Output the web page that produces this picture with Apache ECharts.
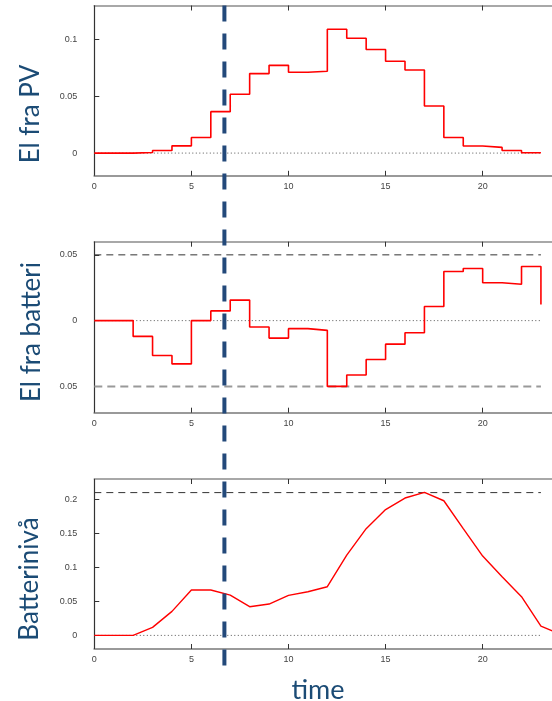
<!DOCTYPE html>
<html>
<head>
<meta charset="utf-8">
<script src="https://cdn.jsdelivr.net/npm/echarts@6/dist/echarts.min.js"></script>
<style>
  html, body { margin: 0; padding: 0; background: #ffffff; }
  #chart { width: 552px; height: 701px; }
</style>
</head>
<body>
<div id="chart"></div>
<script>
// Hour stamps: hourly steps (0..23) and the battery state (0..24)
const stepHours  = [0, 1, 2, 3, 4, 5, 6, 7, 8, 9, 10, 11, 12, 13, 14, 15, 16, 17, 18, 19, 20, 21, 22, 23];
const levelHours = [0, 1, 2, 3, 4, 5, 6, 7, 8, 9, 10, 11, 12, 13, 14, 15, 16, 17, 18, 19, 20, 21, 22, 23, 24];

// Electricity from PV per hour
const pvSupply = [0, 0, 0.0005, 0.0023, 0.0064, 0.0138, 0.0365, 0.0518, 0.0700, 0.0773, 0.0712, 0.0721,
                  0.1091, 0.1012, 0.0912, 0.0809, 0.0732, 0.0415, 0.0138, 0.0062, 0.0050, 0.0023, 0.0003, 0.0003];

// Electricity from battery per hour (negative = charging)
const batteryFlow = [0, 0, -0.0120, -0.0265, -0.0329, 0, 0.0074, 0.0156, -0.0048, -0.0133, -0.0061, -0.0074,
                     -0.0500, -0.0413, -0.0296, -0.0179, -0.0092, 0.0107, 0.0373, 0.0396, 0.0288, 0.0276, 0.0411, 0.0123];

// Battery state of charge
const batteryLevel = [0, 0, 0, 0.0118, 0.0353, 0.0667, 0.0667, 0.0593, 0.0422, 0.0461, 0.0588, 0.0642, 0.0716,
                      0.1180, 0.1570, 0.1850, 0.2020, 0.2103, 0.1980, 0.1570, 0.1167, 0.0863, 0.0569, 0.0137, 0.0014];

// Tick labels
const timeTicks  = [0, 5, 10, 15, 20];
const pvTicks    = [0, 0.05, 0.1];
const flowTicks  = [-0.05, 0, 0.05];
const levelTicks = [0, 0.05, 0.1, 0.15, 0.2];

// Reference levels
const horizon   = [0, 23];   // span of the reference lines
const flowLimit = 0.05;      // max charge / discharge rate
const capacity  = 0.21;      // battery capacity
const nowHour   = 6.7;       // current time marker
const timeMax   = 23.57;     // visible end of the time axis

const names = { pv: 'El fra PV', flow: 'El fra batteri', level: 'Batterinivå', time: 'time' };

const RED = '#ff0000';
const NAVY = '#1b4b75';
const TICK_FONT = { fontFamily: 'Liberation Sans, Arial, sans-serif', fontSize: 9, color: '#444' };

const chart = echarts.init(document.getElementById('chart'), null, { renderer: 'canvas' });

const grids = [
  { left: 94.3, top: 5.5,   right: 0, height: 170.3 },
  { left: 94.3, top: 241.7, right: 0, height: 171 },
  { left: 94.3, top: 479,   right: 0, height: 170 }
];

function bottomAxis(gi) {
  return {
    type: 'value', gridIndex: gi, position: 'bottom', min: 0, max: timeMax,
    axisLine: { onZero: false, lineStyle: { color: '#999', width: 2 } },
    axisTick: { inside: true, length: 5, customValues: timeTicks, lineStyle: { color: '#333', width: 1 } },
    axisLabel: Object.assign({ customValues: timeTicks, margin: 6, formatter: v => String(v) }, TICK_FONT),
    splitLine: { show: false }
  };
}
function topAxis(gi) {
  return {
    type: 'value', gridIndex: gi, position: 'top', min: 0, max: timeMax,
    axisLine: { onZero: false, lineStyle: { color: '#8c8c8c', width: 1.5 } },
    axisTick: { inside: true, length: 5, customValues: timeTicks, lineStyle: { color: '#333', width: 1 } },
    axisLabel: { show: false },
    splitLine: { show: false }
  };
}
function leftAxis(gi, min, max, ticks) {
  return {
    type: 'value', gridIndex: gi, min: min, max: max,
    axisLine: { show: true, onZero: false, lineStyle: { color: '#333', width: 1.2 } },
    axisTick: { show: true, inside: true, length: 5, customValues: ticks, lineStyle: { color: '#333', width: 1 } },
    axisLabel: Object.assign({ customValues: ticks, margin: 17, formatter: v => String(+v.toFixed(3)) }, TICK_FONT),
    splitLine: { show: false }
  };
}

function refLine(axisIdx, value, style) {
  return {
    type: 'line', xAxisIndex: axisIdx, yAxisIndex: axisIdx, silent: true, symbol: 'none',
    data: [[horizon[0], value], [horizon[1], value]],
    lineStyle: style, z: 2
  };
}
const dotted = { color: '#555', width: 1, type: [1, 2.5] };

const xAxes = [];
grids.forEach((g, i) => { xAxes.push(bottomAxis(i)); });
grids.forEach((g, i) => { xAxes.push(topAxis(i)); });

const option = {
  animation: false,
  backgroundColor: '#ffffff',
  grid: grids,
  xAxis: xAxes,
  yAxis: [
    leftAxis(0, -0.02, 0.13, pvTicks),
    leftAxis(1, -0.07, 0.06, flowTicks),
    leftAxis(2, -0.02, 0.23, levelTicks)
  ],
  series: [
    refLine(0, 0, dotted),
    refLine(1, 0, dotted),
    refLine(1, flowLimit, { color: '#333', width: 1, type: [7, 5] }),
    refLine(1, -flowLimit, { color: '#999', width: 2, type: [8, 5] }),
    refLine(2, 0, dotted),
    refLine(2, capacity, { color: '#333', width: 1, type: [7, 5] }),
    {
      name: names.pv, type: 'line', xAxisIndex: 0, yAxisIndex: 0, step: 'end', symbol: 'none',
      data: stepHours.map((h, i) => [h, pvSupply[i]]),
      lineStyle: { color: RED, width: 1.6 }, z: 3
    },
    {
      name: names.flow, type: 'line', xAxisIndex: 1, yAxisIndex: 1, step: 'end', symbol: 'none',
      data: stepHours.map((h, i) => [h, batteryFlow[i]]),
      lineStyle: { color: RED, width: 1.6 }, z: 3
    },
    {
      name: names.level, type: 'line', xAxisIndex: 2, yAxisIndex: 2, symbol: 'none',
      data: levelHours.map((h, i) => [h, batteryLevel[i]]),
      lineStyle: { color: RED, width: 1.4 }, z: 3
    }
  ]
};
chart.setOption(option);

// Axis titles and the current-time marker
const nowX = chart.convertToPixel({ xAxisIndex: 0 }, nowHour);
const markTop = chart.convertToPixel({ yAxisIndex: 0 }, 0.13);
const titleFont = { fontFamily: 'Lato, "Open Sans", sans-serif', fontSize: 26, fill: NAVY };

function sideTitle(text, x, y) {
  return {
    type: 'text', x: x, y: y, rotation: Math.PI / 2, z: 60,
    style: Object.assign({ text: text, align: 'center', verticalAlign: 'middle' }, titleFont)
  };
}

chart.setOption({
  graphic: [
    { type: 'rect', z: 50, shape: { x: 0, y: 245, width: 59.5, height: 160 }, style: { fill: '#ffffff' } },
    sideTitle(names.pv, 31, 114),
    sideTitle(names.flow, 32, 332),
    sideTitle(names.level, 30, 579),
    {
      type: 'text', x: 318, y: 690, z: 60,
      style: Object.assign({}, titleFont, { text: names.time, fontSize: 27, align: 'center', verticalAlign: 'middle' })
    },
    {
      type: 'line', z: 70,
      shape: { x1: nowX, y1: markTop, x2: nowX, y2: 665.5 },
      style: { stroke: '#23497a', lineWidth: 4, lineDash: [16, 12] }
    }
  ]
});
</script>
</body>
</html>
